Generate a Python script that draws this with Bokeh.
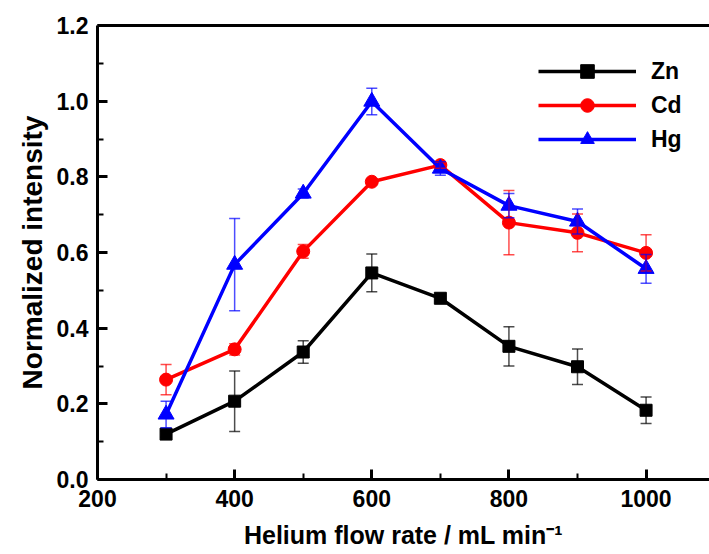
from bokeh.plotting import figure
from bokeh.models import (ColumnDataSource, Range1d, LinearAxis, Whisker, TeeHead,
                          Legend, LegendItem, FixedTicker)
from bokeh.embed import file_html
from bokeh.resources import INLINE

# ---- data ----
flow = [300, 400, 500, 600, 700, 800, 900, 1000]
zn = [0.120, 0.207, 0.337, 0.546, 0.479, 0.352, 0.298, 0.183]
zn_err = [0.008, 0.080, 0.030, 0.050, 0.008, 0.052, 0.047, 0.035]
cd = [0.264, 0.344, 0.603, 0.787, 0.831, 0.679, 0.652, 0.599]
cd_err = [0.040, 0.015, 0.018, 0.008, 0.008, 0.085, 0.050, 0.048]
hg = [0.172, 0.568, 0.756, 0.999, 0.822, 0.724, 0.682, 0.557]
hg_err = [0.035, 0.122, 0.012, 0.035, 0.018, 0.032, 0.033, 0.038]
series_names = ["Zn", "Cd", "Hg"]
x_ticks = [200, 400, 600, 800, 1000]
x_tick_labels = ["200", "400", "600", "800", "1000"]
y_ticks = [0.0, 0.2, 0.4, 0.6, 0.8, 1.0, 1.2]
y_tick_labels = ["0.0", "0.2", "0.4", "0.6", "0.8", "1.0", "1.2"]

FONT = "Liberation Sans"

p = figure(width=709, height=554, output_backend="svg", toolbar_location=None,
           x_range=Range1d(200, 1092.5), y_range=Range1d(0, 1.2),
           min_border_left=97, min_border_right=0, min_border_top=25,
           min_border_bottom=75)
p.xgrid.visible = False
p.ygrid.visible = False
p.outline_line_color = None
p.background_fill_color = "white"
p.border_fill_color = "white"

def style_axis(ax, ticks, labels, minor_step):
    ax.ticker = FixedTicker(ticks=ticks,
                            minor_ticks=[round(t + minor_step, 6) for t in ticks])
    ax.major_label_overrides = {t: s for t, s in zip(ticks, labels)}
    ax.axis_line_width = 3
    ax.axis_line_color = "black"
    ax.major_tick_line_width = 3
    ax.minor_tick_line_width = 2
    ax.major_tick_in = 10
    ax.major_tick_out = 0
    ax.minor_tick_in = 6
    ax.minor_tick_out = 0
    ax.major_label_text_font = FONT
    ax.major_label_text_font_style = "bold"
    ax.major_label_text_font_size = "23px"
    ax.major_label_text_color = "black"
    ax.axis_label_text_font = FONT
    ax.axis_label_text_font_style = "bold"
    ax.axis_label_text_font_size = "25px"
    ax.axis_label_text_color = "black"

style_axis(p.xaxis[0], x_ticks, x_tick_labels, 100)
style_axis(p.yaxis[0], y_ticks, y_tick_labels, 0.1)
p.xaxis[0].major_label_standoff = 10
p.yaxis[0].major_label_standoff = 9
p.xaxis[0].axis_label = "Helium flow rate / mL min\u207b\u00b9"
p.yaxis[0].axis_label = "Normalized intensity"
p.yaxis[0].axis_label_text_font_size = "28px"
p.xaxis[0].axis_label_standoff = 11
p.yaxis[0].axis_label_standoff = 6

top = LinearAxis(ticker=FixedTicker(ticks=[]), axis_line_width=3,
                 major_tick_line_color=None, minor_tick_line_color=None)
p.add_layout(top, "above")

src = ColumnDataSource(dict(x=flow, zn=zn, cd=cd, hg=hg,
                            zn_lo=[v - e for v, e in zip(zn, zn_err)],
                            zn_hi=[v + e for v, e in zip(zn, zn_err)],
                            cd_lo=[v - e for v, e in zip(cd, cd_err)],
                            cd_hi=[v + e for v, e in zip(cd, cd_err)],
                            hg_lo=[v - e for v, e in zip(hg, hg_err)],
                            hg_hi=[v + e for v, e in zip(hg, hg_err)]))

colors = {"zn": "black", "cd": "#ff0000", "hg": "#0000ff"}
markers = {"zn": "square", "cd": "circle", "hg": "triangle"}
sizes = {"zn": 12, "cd": 13, "hg": 16}

items = []
for key, name in zip(["zn", "cd", "hg"], series_names):
    c = colors[key]
    w = Whisker(base="x", lower=f"{key}_lo", upper=f"{key}_hi", source=src,
                line_color=c, line_width=1.5, line_alpha=0.7, level="glyph",
                upper_head=TeeHead(size=11, line_color=c, line_width=1.5, line_alpha=0.7),
                lower_head=TeeHead(size=11, line_color=c, line_width=1.5, line_alpha=0.7))
    p.add_layout(w)
    ln = p.line("x", key, source=src, line_color=c, line_width=3.5)
    mk = p.scatter("x", key, source=src, marker=markers[key], size=sizes[key],
                   fill_color=c, line_color=c)
    items.append(LegendItem(label=name, renderers=[ln, mk]))

legend = Legend(items=items, location=(441, 323), orientation="vertical",
                glyph_width=98, glyph_height=34, label_height=34, spacing=0,
                label_standoff=15, padding=0, margin=0,
                border_line_color=None, background_fill_alpha=0,
                label_text_font=FONT, label_text_font_style="bold",
                label_text_font_size="23px", label_text_color="black")
p.add_layout(legend)

open("out.html", "w").write(file_html(p, INLINE))
